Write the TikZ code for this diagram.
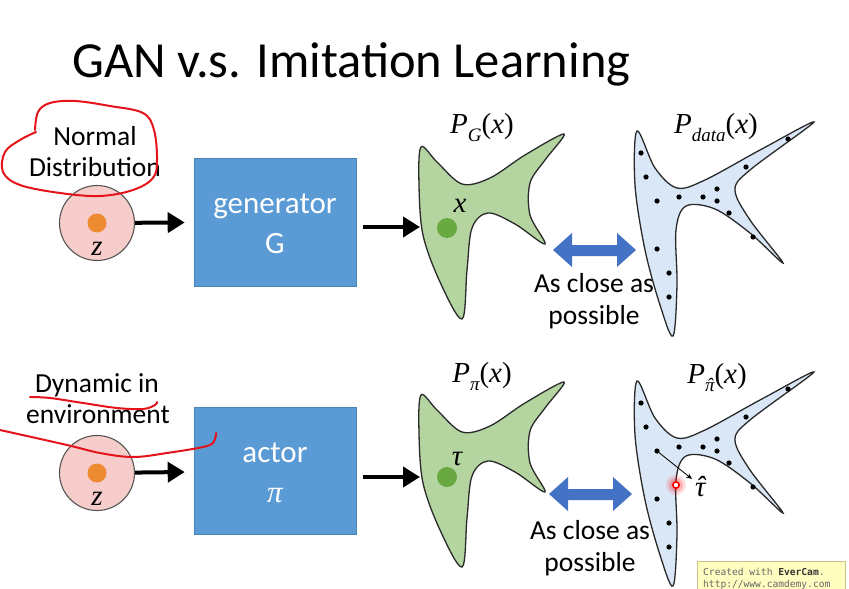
\RequirePackage{fix-cm}
\documentclass[tikz,border=0pt]{standalone}
\usepackage{fontspec}
\setmainfont{Carlito}
\newfontfamily\wmfont{DejaVu Sans Mono}
\newfontfamily\lsr{Liberation Serif}
\usetikzlibrary{arrows.meta}
\definecolor{boxblue}{HTML}{5B9BD5}
\definecolor{arrblue}{HTML}{4472C4}
\definecolor{gfill}{HTML}{B4D4A0}
\definecolor{gdot}{HTML}{6AA842}
\definecolor{bfill}{HTML}{DAE7F6}
\definecolor{zpink}{HTML}{F7CDCB}
\definecolor{zorange}{HTML}{EE8A30}
\definecolor{annred}{HTML}{E5141B}
\definecolor{outl}{HTML}{2A2A2A}
\definecolor{wmfill}{HTML}{FFFDC0}
\definecolor{wmborder}{HTML}{C9C48A}
\newcommand\vsub[1]{\raisebox{-0.28em}{\fontsize{19}{21}\selectfont\itshape #1}}
\newcommand\withhat[1]{\ooalign{\hfil ˆ\hfil\cr #1\cr}}
\tikzset{
  txt/.style={inner sep=0pt, anchor=base, font=\fontsize{27.5}{33}\selectfont},
  boxtxt/.style={inner sep=0pt, anchor=base, text=white, font=\fontsize{31}{37}\selectfont},
  mlabel/.style={inner sep=0pt, font=\lsr\fontsize{29}{34}\selectfont},
  zlabel/.style={inner sep=0pt, font=\lsr\itshape\fontsize{29}{34}\selectfont},
  zcirc/.style={circle, draw=outl!80, fill=zpink, line width=1.1pt, minimum size=75pt, inner sep=0pt},
  odot/.style={circle, fill=zorange, minimum size=19pt, inner sep=0pt},
  gdotst/.style={circle, fill=gdot, minimum size=20pt, inner sep=0pt},
  bluebox/.style={rectangle, fill=boxblue, draw=boxblue!85!black, line width=0.6pt, minimum width=162pt, inner sep=0pt},
  arr/.style={line width=4pt, -{Triangle[length=17pt,width=20pt]}},
  ann/.style={draw=annred, line width=2pt, line cap=round, line join=round},
  greenblob/.pic={
    \filldraw[fill=gfill, draw=outl, line width=1.3pt] plot[smooth cycle, tension=0.55] coordinates {
      (421,147) (419,185) (423,235) (440,282) (462,319) (467,270) (472,228) (488,213)
      (515,224) (545,244) (530,215) (530,183) (545,160) (564,134) (525,155) (490,178)
      (462,184) (437,162)};
  },
  blueblob/.pic={
    \filldraw[fill=bfill, draw=outl, line width=1.3pt] plot[smooth cycle, tension=0.55] coordinates {
      (637,131) (635,185) (645,250) (660,305) (673,336) (677,285) (676,230) (686,206)
      (715,209) (750,233) (783,263) (750,220) (735,190) (750,170) (814,122) (760,150)
      (705,180) (677,188) (655,168)};
    \foreach \p in {(641,153),(646,177),(657,201),(679,197),(703,197),(717,189),(717,201),
      (729,213),(746,167),(788,139),(753,237),(657,249),(669,273),(669,297)}
      \fill[black] \p circle (2.6pt);
  },
  dblarrow/.pic={
    \fill[arrblue] (553,250) -- (572,233) -- (572,245) -- (617,245) -- (617,233) -- (636,250)
      -- (617,267) -- (617,256) -- (572,256) -- (572,267) -- cycle;
  }
}
\begin{document}
\begin{tikzpicture}[x=1pt,y=-1pt]
\useasboundingbox (0,0) rectangle (849,589);
\fill[white] (0,0) rectangle (849,589);

% title
\node[anchor=base west, inner sep=0pt, font=\fontsize{50.5}{60}\selectfont] (title) at (72,77) {GAN v.s. Imitation Learning};

% ---------- top row ----------
\node[txt] (nd1) at (95,145) {Normal};
\node[txt] (nd2) at (95,176) {Distribution};
\node[zcirc] (z1) at (97,223) {};
\node[odot] (o1) at (97,223) {};
\node[zlabel] (zl1) at (97,249) {z};
\node[bluebox, minimum height=128pt] (gen) at (275,222) {};
\node[boxtxt] (gent1) at (275,213) {generator};
\node[boxtxt] (gent2) at (275,253) {G};
\draw[arr, shorten >=9pt] (z1) -- (gen);

\pic at (0,0) {greenblob};
\coordinate (gL1) at (420,227);
\draw[arr] (gen.east |- gL1) ++(7,0) coordinate (gs1) -- (gL1);
\node[gdotst] (gd1) at (447,228) {};
\node[zlabel] (xl1) at (460,206) {x};
\node[mlabel, anchor=base] (pg) at (482,133) {\itshape P\vsub{G}\upshape(\itshape x\upshape)};

\pic at (0,0) {dblarrow};
\node[txt] (cl1) at (594,292) {As close as};
\node[txt] (cl1b) at (594,324) {possible};

\pic at (0,0) {blueblob};
\node[mlabel, anchor=base] (pd) at (716,133) {\itshape P\vsub{data}\upshape(\itshape x\upshape)};

% ---------- bottom row ----------
\node[txt] (de1) at (97,392) {Dynamic in};
\node[txt] (de2) at (98,423) {environment};
\node[zcirc] (z2) at (97,473) {};
\node[odot] (o2) at (97,473) {};
\node[zlabel] (zl2) at (97,499) {z};
\node[bluebox, minimum height=127pt] (act) at (275,471) {};
\node[boxtxt] (actt1) at (275,462) {actor};
\node[boxtxt, font=\lsr\itshape\fontsize{31}{37}\selectfont] (actt2) at (275,502) {π};
\draw[arr, shorten >=9pt] (z2) -- (act);

\pic at (0,248) {greenblob};
\coordinate (gL2) at (420,477);
\draw[arr] (act.east |- gL2) ++(7,0) coordinate (gs2) -- (gL2);
\node[gdotst] (gd2) at (447,477) {};
\node[zlabel] (tl) at (457,459) {τ};
\node[mlabel, anchor=base] (pp) at (482,382) {\itshape P\vsub{π}\upshape(\itshape x\upshape)};

\pic at (-4,244) {dblarrow};
\node[txt] (cl2) at (590,539) {As close as};
\node[txt] (cl2b) at (590,571) {possible};

\pic at (0,250) {blueblob};
\node[mlabel, anchor=base] (ph) at (717,383) {\itshape P\vsub{\withhat{π}}\upshape(\itshape x\upshape)};
\coordinate (sd) at (657,451);
\node[zlabel, anchor=west] (th) at (695,487) {\withhat{τ}};
\draw[line width=0.8pt, -{Stealth[length=6pt,width=5pt]}] (sd) -- (692,479);
\fill[red, opacity=0.12] (676,485) circle (10pt);
\fill[red, opacity=0.2] (676,485) circle (7pt);
\draw[red, line width=1.6pt, fill=white] (676,485) circle (3.2pt);

% ---------- red annotations ----------
\draw[ann] plot[smooth, tension=0.6] coordinates {(35,130) (38,112) (50,103) (75,101) (110,106) (143,113) (154,130) (157,160) (153,178) (133,190) (100,196) (60,193) (20,185) (3,172) (5,152) (20,140) (36,132)};
\draw[ann] plot[smooth, tension=0.6] coordinates {(30,397) (50,398) (83,403) (117,408) (143,409) (155,405) (157,402)};
\draw[ann] plot[smooth, tension=0.6] coordinates {(0,430) (67,445) (100,453) (133,457) (167,453) (207,446) (215,439) (216,433)};

% ---------- watermark ----------
\node[draw=wmborder, fill=wmfill, anchor=north west, minimum width=148pt, minimum height=30pt, inner sep=0pt] (wm) at (697,561) {};
\node[anchor=base west, inner sep=0pt, text=black!60, font=\wmfont\fontsize{9.6}{12}\selectfont] (wm1) at (703,575) {Created with \textcolor{black!80}{\textbf{EverCam}}.};
\node[anchor=base west, inner sep=0pt, text=black!60, font=\wmfont\fontsize{9.6}{12}\selectfont] (wm2) at (703,587) {http://www.camdemy.com};
\end{tikzpicture}
\end{document}
